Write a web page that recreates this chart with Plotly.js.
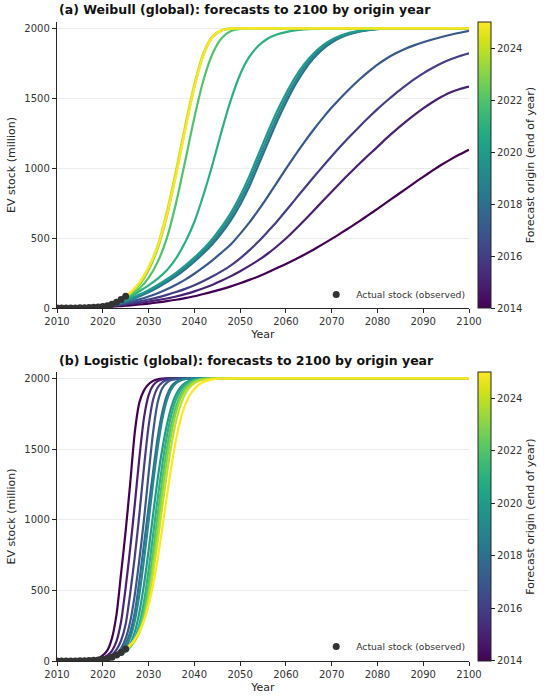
<!DOCTYPE html>
<html><head><meta charset="utf-8">
<script src="https://cdn.plot.ly/plotly-3.0.1.min.js"></script>
<style>html,body{margin:0;padding:0;background:#fff}#chart{width:550px;height:698px}</style>
</head><body><div id="chart"></div>
<script>
// ---------------- DATA ----------------
const originYears = [2014,2015,2016,2017,2018,2019,2020,2021,2022,2023,2024,2025];
const obsYears = [2010,2011,2012,2013,2014,2015,2016,2017,2018,2019,2020,2021,2022,2023,2024,2025];
const obsStock = [0.02,0.06,0.18,0.4,0.7,1.3,2.0,3.2,5.1,7.5,11,17,27,42,60,85];

// Weibull panel: shared year grid (each curve starts at its origin year)
const topYears = [2014,2015,2016,2017,2018,2019,2020,2021,2022,2023,2024,2025,2026,
  2028,2030,2032,2034,2036,2038,2040,2042,2044,2046,2048,2050,2052,2054,2056,2058,2060,
  2062,2064,2066,2068,2070,2072,2074,2076,2078,2080,2082,2084,2086,2088,2090,2092,2094,2096,2098,2100];
const weibull2014 = [0.7,1.3,2,3,4.2,5.5,7,8.5,10,12,14,16.5,19,
  25,32,40,49,59,71,84,100,117,135,155,177,201,226,254,285,315,347,381,417,455,494,535,577,620,664,709,755,801,847,893,938,982,1024,1063,1099,1132];
const weibull2015 = [1.3,2.1,3.2,4.6,6.3,8.5,11,14,17,21,25,29,
  37,46,56,68,82,99,119,142,167,196,228,263,301,342,388,440,497,560,626,694,763,832,900,966,1030,1092,1152,1215,1272,1327,1379,1427,1471,1510,1543,1566,1583];
const weibull2016 = [2,3.2,4.8,7,9.5,12.5,16,20,25,30,36,
  48,61,76,94,114,137,163,193,227,264,305,355,412,475,545,617,695,775,855,933,1010,1085,1158,1228,1295,1360,1422,1480,1535,1586,1635,1678,1716,1750,1778,1802,1821];
const weibull2017 = [3.2,4.8,7,9.8,13,17,22,28,36,45,
  62,82,106,134,166,203,245,292,343,398,456,530,610,700,795,895,995,1092,1185,1273,1356,1433,1504,1570,1632,1688,1740,1784,1821,1852,1878,1900,1920,1938,1954,1968,1981];
const weibull2018 = [5.1,7.3,10.3,14.5,20,27,36,46,57,
  84,112,146,185,228,277,331,391,458,538,629,739,869,1022,1177,1330,1468,1593,1698,1783,1849,1898,1934,1959,1976,1987,1994,1997,1999,2000,2000,2000,2000,2000,2000,2000,2000];
const weibull2019 = [7.5,11,16,22,30,40,51,63,
  90,120,155,195,240,290,345,407,477,560,655,770,905,1060,1215,1365,1500,1620,1720,1800,1862,1908,1941,1964,1979,1989,1995,1998,2000,2000,2000,2000,2000,2000,2000,2000,2000];
const weibull2020 = [11,16.5,23,32,43,55,68,
  97,128,165,206,252,303,360,424,496,583,681,801,941,1099,1253,1401,1532,1648,1743,1818,1876,1918,1948,1969,1982,1991,1996,1999,2000,2000,2000,2000,2000,2000,2000,2000,2000];
const weibull2021 = [17,25,35,48,63,80,
  120,162,210,270,355,470,615,810,1030,1270,1490,1670,1795,1875,1925,1955,1973,1985,1992,1996,1998,1999,2000,2000,2000,2000,2000,2000,2000,2000,2000,2000,2000,2000,2000,2000,2000];
const weibull2022 = [27,39,54,72,92,
  140,215,330,500,750,1050,1360,1630,1820,1930,1980,1996,2000,2000,2000,2000,2000,2000,2000,2000,2000,2000,2000,2000,2000,2000,2000,2000,2000,2000,2000,2000,2000,2000,2000,2000,2000];
const weibull2023 = [42,58,78,102,
  165,270,425,655,955,1280,1580,1810,1938,1985,1998,2000,2000,2000,2000,2000,2000,2000,2000,2000,2000,2000,2000,2000,2000,2000,2000,2000,2000,2000,2000,2000,2000,2000,2000,2000,2000];
const weibull2024 = [60,82,108,
  180,290,450,690,985,1305,1600,1825,1945,1988,1999,2000,2000,2000,2000,2000,2000,2000,2000,2000,2000,2000,2000,2000,2000,2000,2000,2000,2000,2000,2000,2000,2000,2000,2000,2000,2000];
const weibull2025 = [86,112,
  182,290,440,665,950,1270,1575,1810,1940,1986,1998,2000,2000,2000,2000,2000,2000,2000,2000,2000,2000,2000,2000,2000,2000,2000,2000,2000,2000,2000,2000,2000,2000,2000,2000,2000,2000];

// Logistic panel
const botYears = [2014,2015,2016,2017,2018,2019,2020,2021,2022,2023,2024,2025,2026,2027,2028,2029,
  2030,2031,2032,2033,2034,2035,2036,2037,2038,2039,2040,2041,2042,2043,2044,2045,
  2050,2060,2070,2080,2090,2100];
const logistic2014 = [0.7,1.4,2.7,5,10,20,40,75,160,330,620,920,1260,1620,1830,1915,1958,1982,1994,1999,2000,2000,2000,2000,2000,2000,2000,2000,2000,2000,2000,2000,2000,2000,2000,2000,2000,2000];
const logistic2015 = [1.3,2,3.5,6.5,12,22,40,72,140,280,520,800,1110,1440,1720,1880,1950,1980,1993,1998,2000,2000,2000,2000,2000,2000,2000,2000,2000,2000,2000,2000,2000,2000,2000,2000,2000];
const logistic2016 = [2,3,4.6,7.5,13,24,44,80,145,260,480,740,1040,1370,1660,1850,1935,1972,1989,1996,1999,2000,2000,2000,2000,2000,2000,2000,2000,2000,2000,2000,2000,2000,2000,2000];
const logistic2017 = [3.2,4.8,7,10,16,28,50,90,160,280,470,720,1000,1320,1620,1830,1930,1970,1988,1995,1998,2000,2000,2000,2000,2000,2000,2000,2000,2000,2000,2000,2000,2000,2000];
const logistic2018 = [5.1,7.5,10.5,15,24,40,70,120,205,345,570,825,1085,1340,1580,1760,1880,1945,1975,1990,1997,2000,2000,2000,2000,2000,2000,2000,2000,2000,2000,2000,2000,2000];
const logistic2019 = [7.5,10,14,21,33,56,95,165,285,470,715,985,1260,1510,1710,1845,1925,1965,1985,1995,1999,2000,2000,2000,2000,2000,2000,2000,2000,2000,2000,2000,2000];
const logistic2020 = [11,15,21,30,45,72,120,205,345,540,780,1040,1290,1500,1670,1800,1885,1937,1967,1984,1993,1997,1999,2000,2000,2000,2000,2000,2000,2000,2000,2000];
const logistic2021 = [17,24,33,46,66,100,160,262,420,640,895,1150,1390,1590,1745,1850,1915,1953,1976,1988,1995,1998,2000,2000,2000,2000,2000,2000,2000,2000,2000];
const logistic2022 = [27,38,52,72,100,145,225,355,545,780,1035,1285,1500,1675,1800,1882,1935,1965,1982,1991,1996,1999,2000,2000,2000,2000,2000,2000,2000,2000];
const logistic2023 = [42,57,77,104,145,210,315,475,690,935,1190,1420,1615,1762,1860,1920,1956,1977,1989,1995,1998,2000,2000,2000,2000,2000,2000,2000,2000];
const logistic2024 = [60,80,106,143,200,290,430,630,850,1090,1325,1530,1695,1812,1890,1937,1965,1981,1990,1995,1998,2000,2000,2000,2000,2000,2000,2000];
const logistic2025 = [85,115,155,210,285,395,540,725,940,1165,1380,1565,1710,1812,1880,1925,1955,1974,1986,1993,1997,2000,2000,2000,2000,2000,2000];

const xTicks = [2010,2020,2030,2040,2050,2060,2070,2080,2090,2100];
const yTicks = [0,500,1000,1500,2000];
const colorbarTicks = [2014,2016,2018,2020,2022,2024];

const panelTitles = ['(a) Weibull (global): forecasts to 2100 by origin year',
                     '(b) Logistic (global): forecasts to 2100 by origin year'];

// ---------------- STYLE ----------------
const VIRIDIS = [[0,'#440154'],[0.0627,'#48186a'],[0.1255,'#472d7b'],[0.1882,'#424086'],[0.2510,'#3b528b'],
  [0.3137,'#33638d'],[0.3765,'#2c728e'],[0.4392,'#26828e'],[0.5020,'#21918c'],[0.5647,'#1fa088'],
  [0.6275,'#28ae80'],[0.6902,'#3fbc73'],[0.7529,'#5ec962'],[0.8157,'#84d44b'],[0.8784,'#addc30'],
  [0.9412,'#d8e219'],[1,'#fde725']];
function hex2rgb(h){return [parseInt(h.substr(1,2),16),parseInt(h.substr(3,2),16),parseInt(h.substr(5,2),16)];}
function viridis(t){
  t = Math.max(0, Math.min(1, t));
  for (let i=1;i<VIRIDIS.length;i++){
    if (t <= VIRIDIS[i][0]) {
      const a = VIRIDIS[i-1], b = VIRIDIS[i];
      const f = (t - a[0])/(b[0]-a[0]);
      const ca = hex2rgb(a[1]), cb = hex2rgb(b[1]);
      const c = ca.map((v,k)=>Math.round(v + f*(cb[k]-v)));
      return 'rgb('+c.join(',')+')';
    }
  }
  return VIRIDIS[VIRIDIS.length-1][1];
}
const CMIN = 2014, CMAX = 2025;
const FONT = 'DejaVu Sans, Liberation Sans, sans-serif';
const INK = '#262626';

const weibullSeries = [weibull2014,weibull2015,weibull2016,weibull2017,weibull2018,weibull2019,weibull2020,weibull2021,weibull2022,weibull2023,weibull2024,weibull2025];
const logisticSeries = [logistic2014,logistic2015,logistic2016,logistic2017,logistic2018,logistic2019,logistic2020,logistic2021,logistic2022,logistic2023,logistic2024,logistic2025];

const traces = [];
function addPanel(years, series, xa, ya, legendId) {
  originYears.forEach((yr, i) => {
    const start = years.indexOf(yr);
    traces.push({
      type:'scatter', mode:'lines', x: years.slice(start), y: series[i],
      xaxis: xa, yaxis: ya, showlegend:false, hoverinfo:'skip',
      line:{color: viridis((yr-CMIN)/(CMAX-CMIN)), width:2.2, shape:'spline', smoothing:0.7}
    });
  });
  traces.push({
    type:'scatter', mode:'markers', x: obsYears, y: obsStock, xaxis: xa, yaxis: ya,
    name:'Actual stock (observed)', legend: legendId, showlegend:true, hoverinfo:'skip',
    marker:{color:'#333333', size:7}
  });
}
addPanel(topYears, weibullSeries, 'x', 'y', 'legend');
addPanel(botYears, logisticSeries, 'x2', 'y2', 'legend2');

const topDomain = [0.5524, 1];
const botDomain = [0, 0.4523];

function cbTrace(xa, ya, dom) {
  return {
    type:'scatter', mode:'markers', x:[2010], y:[0], xaxis:xa, yaxis:ya,
    showlegend:false, hoverinfo:'skip',
    marker:{color:[CMIN], cmin:CMIN, cmax:CMAX, colorscale:'Viridis', opacity:0, size:1, showscale:true,
      colorbar:{x:1.0215, xanchor:'left', y:dom[1], yanchor:'top', len:dom[1]-dom[0], lenmode:'fraction',
        thickness:13, thicknessmode:'pixels', xpad:0, ypad:0,
        outlinewidth:1, outlinecolor:INK,
        tickmode:'array', tickvals:colorbarTicks, ticks:'outside', ticklen:4, tickcolor:INK,
        tickfont:{family:FONT, size:10, color:'#333'},
        title:{text:'Forecast origin (end of year)', side:'right', font:{family:FONT, size:11, color:INK}}}}
  };
}
traces.push(cbTrace('x','y',topDomain));
traces.push(cbTrace('x2','y2',botDomain));

function xAxis(anchor) {
  return {domain:[0,1], anchor:anchor, range:[2010,2100], tickmode:'array', tickvals:xTicks,
    ticks:'outside', ticklen:4, tickwidth:1, tickcolor:INK, showline:true, linecolor:INK, linewidth:1.2,
    showgrid:false, zeroline:false, tickfont:{family:FONT, size:10, color:'#333'},
    title:{text:'Year', font:{family:FONT, size:11, color:INK}, standoff:4}};
}
function yAxis(anchor, dom) {
  return {domain:dom, anchor:anchor, range:[0,2045], tickmode:'array', tickvals:yTicks,
    ticks:'outside', ticklen:4, tickwidth:1, tickcolor:INK, showline:true, linecolor:INK, linewidth:1.2,
    showgrid:true, gridcolor:'#ececec', gridwidth:1, zeroline:false,
    tickfont:{family:FONT, size:10, color:'#333'},
    title:{text:'EV stock (million)', font:{family:FONT, size:11, color:INK}, standoff:6}};
}

const layout = {
  width:550, height:698, margin:{l:57, r:75, t:22, b:37},
  paper_bgcolor:'#fff', plot_bgcolor:'#fff', font:{family:FONT, color:INK},
  xaxis: xAxis('y'), yaxis: yAxis('x', topDomain),
  xaxis2: xAxis('y2'), yaxis2: yAxis('x2', botDomain),
  legend:{x:1.003, xanchor:'right', y:0.551, yanchor:'bottom', bgcolor:'rgba(0,0,0,0)',
    font:{family:FONT, size:9.2, color:'#333'}},
  legend2:{x:1.003, xanchor:'right', y:0.0, yanchor:'bottom', bgcolor:'rgba(0,0,0,0)',
    font:{family:FONT, size:9.2, color:'#333'}},
  annotations:[
    {text:'<b>'+panelTitles[0]+'</b>', xref:'paper', yref:'paper', x:0, y:1.0188, xanchor:'left', yanchor:'middle',
      showarrow:false, font:{family:FONT, size:12.5, color:'#111'}},
    {text:'<b>'+panelTitles[1]+'</b>', xref:'paper', yref:'paper', x:0, y:0.4695, xanchor:'left', yanchor:'middle',
      showarrow:false, font:{family:FONT, size:12.5, color:'#111'}}
  ],
  showlegend:true
};

Plotly.newPlot('chart', traces, layout, {displayModeBar:false, staticPlot:true});
</script>
</body></html>
